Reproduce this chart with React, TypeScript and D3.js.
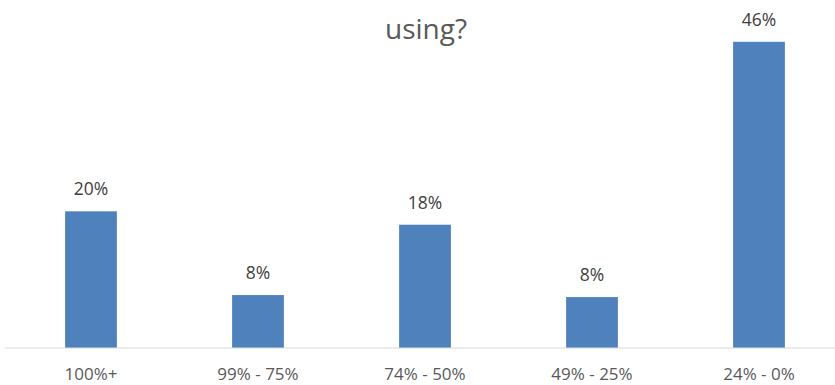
import React from "react";
import * as d3 from "d3";

const categories = ["100%+", "99% - 75%", "74% - 50%", "49% - 25%", "24% - 0%"];
const values = [20.4, 7.9, 18.4, 7.6, 45.7];
const labels = ["20%", "8%", "18%", "8%", "46%"];
const titleLines = ["using?"];

const W = 835;
const H = 385;

export default function App() {
  const x = d3
    .scaleBand<string>()
    .domain(categories)
    .range([7.5, 842.5])
    .paddingInner(0.69)
    .paddingOuter(0.345);
  const y = d3.scaleLinear().domain([0, 50]).range([348, 13]);
  const font = "'Open Sans', 'Liberation Sans', sans-serif";
  return (
    <svg
      width={W}
      height={H}
      style={{ position: "absolute", left: 0, top: 0, background: "#fff" }}
      fontFamily={font}
    >
      {titleLines.map((t, i) => (
        <text key={i} x={426} y={39 + i * 30} textAnchor="middle" fontSize={28} fill="#595959">
          {t}
        </text>
      ))}
      {categories.map((c, i) => (
        <g key={c}>
          <rect
            x={x(c)}
            y={y(values[i])}
            width={x.bandwidth()}
            height={y(0) - y(values[i])}
            fill="#4f81bd"
          />
          <text
            x={(x(c) as number) + x.bandwidth() / 2}
            y={y(values[i]) - 16}
            textAnchor="middle"
            fontSize={17.5}
            fill="#404040"
          >
            {labels[i]}
          </text>
          <text
            x={(x(c) as number) + x.bandwidth() / 2}
            y={380}
            textAnchor="middle"
            fontSize={17}
            fill="#595959"
          >
            {c}
          </text>
        </g>
      ))}
      <line x1={5} x2={835} y1={y(0)} y2={y(0)} stroke="#d9d9d9" strokeWidth={1} />
    </svg>
  );
}
